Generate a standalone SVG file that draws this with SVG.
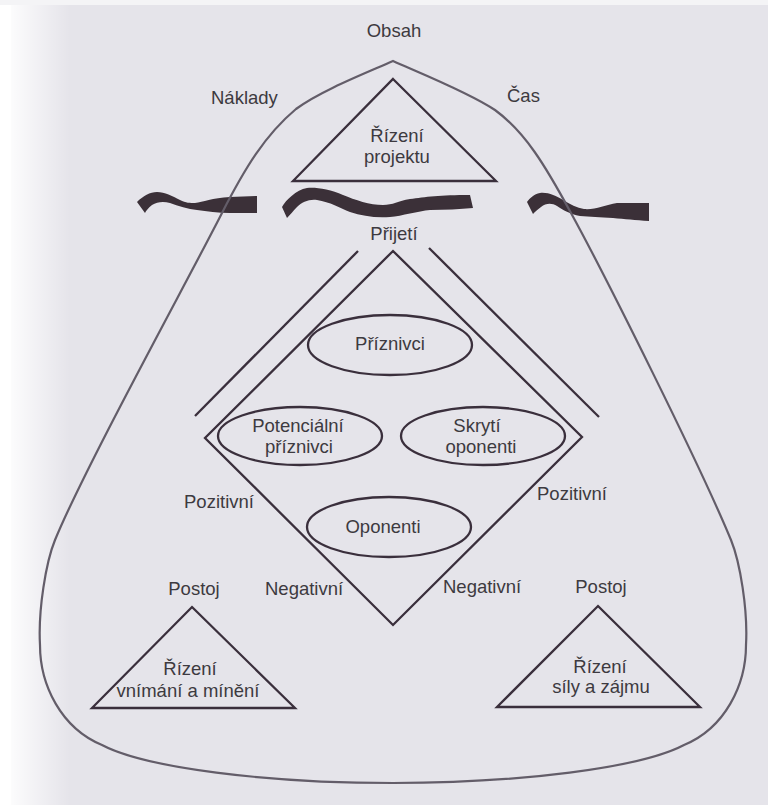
<svg xmlns="http://www.w3.org/2000/svg" width="768" height="805" viewBox="0 0 768 805">
<defs>
<style>
.ln{fill:none;stroke:#3a2f3c;stroke-width:2.3;stroke-linejoin:miter}
.el{fill:none;stroke:#3a2f3c;stroke-width:2.3}
.wv{fill:#3b3038;stroke:none}
.tx{font-family:"Liberation Sans",Arial,sans-serif;font-size:18.5px;fill:#3d3a40;text-anchor:middle}
.tl{font-family:"Liberation Sans",Arial,sans-serif;font-size:18.5px;fill:#3d3a40}
</style>
<linearGradient id="glow" x1="0" y1="0" x2="1" y2="0">
<stop offset="0" stop-color="#ffffff" stop-opacity="0.9"/>
<stop offset="1" stop-color="#ffffff" stop-opacity="0"/>
</linearGradient>
</defs>
<rect x="0" y="0" width="768" height="805" fill="#e5e4ea"/>
<rect x="10" y="0" width="60" height="805" fill="url(#glow)"/>
<rect x="0" y="0" width="11" height="805" fill="#ffffff"/>
<rect x="0" y="0" width="768" height="5" fill="#f4f4f6"/>

<g id="waves">
<path class="wv" d="M137,202 C143,196 150,192 157,192 C165,192 172,196 180,200 C186,203 190,203 195,203 C203,202 212,198 230,197 L257,196 L257,213 L230,213 C218,213 207,211 197,210 C188,209 178,206 170,203 C163,201 157,202 152,205 C148,208 146,211 145,213 Z"/>
<path class="wv" d="M282,207 C286,200 296,190 307,188 C315,187 330,189 343,195 C355,200 370,205 383,205 C393,205 398,201 410,199 C425,197 440,195 470,195 L473,208 C460,209 445,210 430,210 C418,211 402,216 390,217 C375,218 362,216 350,212 C340,208 330,202 317,200 C309,199 302,202 297,207 C293,211 290,215 287,218 Z"/>
<path class="wv" d="M527,202 C530,198 534,194 540,193 C548,192 556,196 563,200 C570,204 577,208 584,209 C595,210 605,205 617,203 L649,203 L649,221 C635,220 625,219 613,218 C600,217 590,217 580,216 C570,214 563,210 557,206 C552,203 546,203 541,207 C538,209 535,212 533,214 Z"/>
</g>

<g id="outline">
<path d="M393,61 C420,73 470,93 495,110 C525,132 545,165 571,213 C605,275 700,465 731,540 C740,562 748,610 746,645 C746,685 725,728 684,745 C640,768 520,783 393,783 C266,783 146,768 102,745 C61,728 40,685 40,645 C38,610 46,562 55,540 C86,465 188,280 222,213 C245,168 265,135 296,109 C320,91 366,73 393,61 Z" fill="none" stroke="#635d69" stroke-width="2.2"/>
</g>

<g id="connectors">
<line class="ln" x1="358" y1="251" x2="195" y2="416"/>
<line class="ln" x1="429" y1="248" x2="599" y2="417"/>
</g>

<g id="node-rizeni-projektu">
<polygon class="ln" points="393,79 496,181 293,181"/>
<text class="tx" x="397" y="142">Řízení</text>
<text class="tx" x="397" y="163">projektu</text>
</g>

<g id="node-prijeti">
<polygon class="ln" points="393,251 582,437 393,625 205,438"/>
<text class="tx" x="394" y="240">Přijetí</text>
</g>

<g id="node-priznivci">
<ellipse class="el" cx="390" cy="345" rx="82" ry="30"/>
<text class="tx" x="390" y="350">Příznivci</text>
</g>

<g id="node-potencialni">
<ellipse class="el" cx="300" cy="436" rx="82" ry="29"/>
<text class="tx" x="298" y="432">Potenciální</text>
<text class="tx" x="299" y="453">příznivci</text>
</g>

<g id="node-skryti">
<ellipse class="el" cx="483" cy="436" rx="82" ry="29"/>
<text class="tx" x="477" y="432">Skrytí</text>
<text class="tx" x="481" y="453">oponenti</text>
</g>

<g id="node-oponenti">
<ellipse class="el" cx="389" cy="527" rx="82" ry="30"/>
<text class="tx" x="383" y="533">Oponenti</text>
</g>

<g id="node-vnimani">
<polygon class="ln" points="192,607 295,708 92,708"/>
<text class="tx" x="190" y="675">Řízení</text>
<text class="tx" x="188" y="697">vnímání a mínění</text>
</g>

<g id="node-sily">
<polygon class="ln" points="598,606 700,707 497,707"/>
<text class="tx" x="600" y="673">Řízení</text>
<text class="tx" x="601" y="693">síly a zájmu</text>
</g>

<g id="labels">
<text class="tx" x="394" y="37">Obsah</text>
<text class="tl" x="211" y="104">Náklady</text>
<text class="tl" x="507" y="102">Čas</text>
<text class="tl" x="184" y="508">Pozitivní</text>
<text class="tl" x="537" y="500">Pozitivní</text>
<text class="tl" x="265" y="595">Negativní</text>
<text class="tl" x="443" y="593">Negativní</text>
<text class="tx" x="194" y="595">Postoj</text>
<text class="tx" x="601" y="593">Postoj</text>
</g>
</svg>
